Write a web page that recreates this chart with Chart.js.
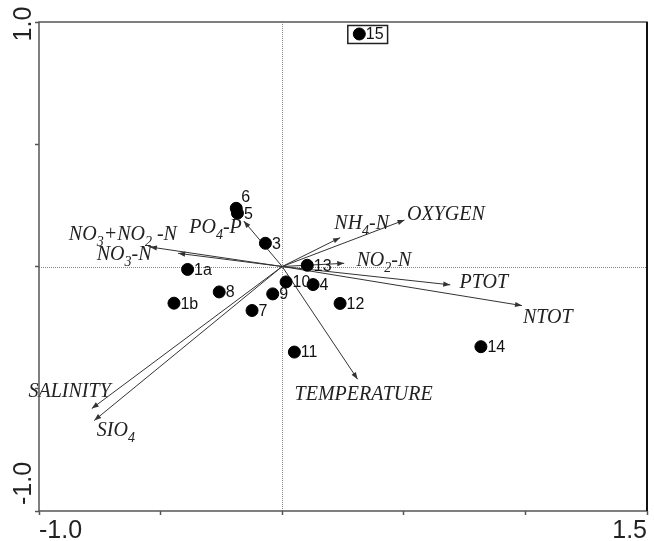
<!DOCTYPE html>
<html><head><meta charset="utf-8">
<script src="https://cdn.jsdelivr.net/npm/chart.js@4.4.1/dist/chart.umd.min.js"></script>
<style>html,body{margin:0;padding:0;background:#fff;} canvas{display:block;}</style>
</head><body>
<canvas id="c" width="654" height="541"></canvas>
<script>
// ---- data ----
const siteNames = ['1a','1b','3','4','5','6','7','8','9','10','11','12','13','14','15'];
const siteX = [-0.389,-0.445,-0.069,0.127,-0.184,-0.189,-0.124,-0.259,-0.039,0.016,0.050,0.238,0.103,0.817,0.317];
const siteY = [-0.012,-0.150,0.095,-0.074,0.218,0.238,-0.180,-0.104,-0.112,-0.063,-0.350,-0.151,0.005,-0.328,0.951];

const varNames = ['OXYGEN','NH_4-N','NO_2-N','PTOT','NTOT','TEMPERATURE','SALINITY','SIO_4','PO_4-P','NO_3-N','NO_3+NO_2 -N'];
const varX = [0.503,0.238,0.255,0.691,0.986,0.310,-0.783,-0.773,-0.158,-0.428,-0.544];
const varY = [0.190,0.118,0.013,-0.075,-0.160,-0.461,-0.581,-0.630,0.186,0.054,0.080];
// label anchor (centre of text) in data units
const varLabelX = [0.673,0.327,0.418,0.829,1.092,0.335,-0.874,-0.684,-0.274,-0.650,-0.655];
const varLabelY = [0.217,0.182,0.029,-0.061,-0.205,-0.520,-0.506,-0.668,0.164,0.055,0.134];

const xTickValues = [-1.0, 1.5];
const xTickLabels = ['-1.0', '1.5'];
const yTickValues = [1.0, -1.0];
const yTickLabels = ['1.0', '-1.0'];
const boxedSite = '15';

// ---- chart ----
const datasets = [{
  label: 'sites',
  data: siteX.map((x, i) => ({x, y: siteY[i]})),
  backgroundColor: '#000',
  borderColor: '#000',
  pointRadius: 6,
  pointHoverRadius: 6,
  showLine: false,
  order: 0
}];
varNames.forEach((n, i) => {
  datasets.push({
    label: n,
    data: [{x: 0, y: 0}, {x: varX[i], y: varY[i]}],
    showLine: true,
    borderColor: '#333',
    borderWidth: 1,
    pointRadius: 0,
    pointHoverRadius: 0,
    order: 1
  });
});

function drawRich(ctx, str, cx, cy, size) {
  const parts = [];
  for (let i = 0; i < str.length; i++) {
    if (str[i] === '_') { parts.push({t: str[i + 1], sub: true}); i++; }
    else if (parts.length && !parts[parts.length - 1].sub) parts[parts.length - 1].t += str[i];
    else parts.push({t: str[i], sub: false});
  }
  const mainF = 'italic ' + size + 'px "Liberation Serif", "Times New Roman", serif';
  const subF = 'italic ' + Math.round(size * 0.7) + 'px "Liberation Serif", "Times New Roman", serif';
  let w = 0;
  parts.forEach(p => { ctx.font = p.sub ? subF : mainF; p.w = ctx.measureText(p.t).width; w += p.w; });
  let x = cx - w / 2;
  ctx.textAlign = 'left';
  ctx.textBaseline = 'alphabetic';
  const base = cy + size * 0.33;
  parts.forEach(p => {
    ctx.font = p.sub ? subF : mainF;
    ctx.fillText(p.t, x, p.sub ? base + size * 0.3 : base);
    x += p.w;
  });
}

const biplot = {
  id: 'biplot',
  beforeDatasetsDraw(chart) {
    const {ctx, chartArea: a, scales: {x, y}} = chart;
    ctx.save();
    ctx.strokeStyle = '#888';
    ctx.lineWidth = 1;
    ctx.setLineDash([1, 1]);
    const x0 = Math.round(x.getPixelForValue(0)) + 0.5;
    const y0 = Math.round(y.getPixelForValue(0)) + 0.5;
    ctx.beginPath();
    ctx.moveTo(x0, a.top); ctx.lineTo(x0, a.bottom);
    ctx.moveTo(a.left, y0); ctx.lineTo(a.right, y0);
    ctx.stroke();
    ctx.restore();
  },
  afterDatasetsDraw(chart) {
    const {ctx, chartArea: a, scales: {x, y}} = chart;
    ctx.save();
    // arrowheads
    ctx.fillStyle = '#333';
    varNames.forEach((n, i) => {
      const px = x.getPixelForValue(varX[i]), py = y.getPixelForValue(varY[i]);
      const ox = x.getPixelForValue(0), oy = y.getPixelForValue(0);
      const ang = Math.atan2(py - oy, px - ox);
      const L = 7, W = 2.6;
      ctx.beginPath();
      ctx.moveTo(px, py);
      ctx.lineTo(px - L * Math.cos(ang) + W * Math.sin(ang), py - L * Math.sin(ang) - W * Math.cos(ang));
      ctx.lineTo(px - L * Math.cos(ang) - W * Math.sin(ang), py - L * Math.sin(ang) + W * Math.cos(ang));
      ctx.closePath();
      ctx.fill();
    });
    // variable labels
    ctx.fillStyle = '#222';
    varNames.forEach((n, i) => {
      drawRich(ctx, n, x.getPixelForValue(varLabelX[i]), y.getPixelForValue(varLabelY[i]), 20);
    });
    // site labels
    ctx.font = '16px "Liberation Sans", Arial, sans-serif';
    ctx.textBaseline = 'middle';
    ctx.textAlign = 'left';
    ctx.fillStyle = '#111';
    siteNames.forEach((n, i) => {
      const px = x.getPixelForValue(siteX[i]), py = y.getPixelForValue(siteY[i]);
      let lx = px + 6.5, ly = py + 1;
      if (n === '6') { lx = px + 5; ly = py - 11; }
      ctx.fillText(n, lx, ly);
      if (n === boxedSite) {
        const w = ctx.measureText(n).width;
        ctx.strokeStyle = '#222';
        ctx.lineWidth = 1.5;
        ctx.strokeRect(px - 11.5, py - 8.5, (lx + w + 4) - (px - 11.5), 18);
      }
    });
    // frame
    ctx.strokeStyle = '#555';
    ctx.lineWidth = 1.5;
    ctx.strokeRect(a.left, a.top, a.right - a.left, a.bottom - a.top);
    ctx.strokeStyle = '#111';
    ctx.lineWidth = 2;
    ctx.beginPath(); ctx.moveTo(a.right, a.top); ctx.lineTo(a.right, a.bottom); ctx.stroke();
    // tick labels
    ctx.fillStyle = '#222';
    ctx.font = '25px "Liberation Sans", Arial, sans-serif';
    ctx.textBaseline = 'alphabetic';
    xTickValues.forEach((v, i) => {
      const px = x.getPixelForValue(v);
      ctx.textAlign = i === 0 ? 'left' : 'right';
      ctx.fillText(xTickLabels[i], px, 538);
    });
    yTickValues.forEach((v, i) => {
      const py = y.getPixelForValue(v);
      ctx.save();
      ctx.translate(31, i === 0 ? py + 2 : py - 6);
      ctx.rotate(-Math.PI / 2);
      ctx.textAlign = i === 0 ? 'center' : 'left';
      ctx.fillText(yTickLabels[i], 0, 0);
      ctx.restore();
    });
    ctx.restore();
  }
};

new Chart(document.getElementById('c'), {
  type: 'scatter',
  data: {datasets},
  options: {
    responsive: false,
    animation: false,
    devicePixelRatio: 1,
    layout: {padding: {top: 22, right: 5, left: 0, bottom: 0}},
    plugins: {legend: {display: false}, tooltip: {enabled: false}},
    scales: {
      x: {
        type: 'linear', min: -1, max: 1.5,
        ticks: {stepSize: 0.5, display: false},
        grid: {drawOnChartArea: false, drawTicks: true, tickLength: 4, tickColor: '#555', tickWidth: 1.5},
        border: {display: false},
        afterFit(s) { s.height = 30; }
      },
      y: {
        type: 'linear', min: -1, max: 1,
        ticks: {stepSize: 0.5, display: false},
        grid: {drawOnChartArea: false, drawTicks: true, tickLength: 4, tickColor: '#555', tickWidth: 1.5},
        border: {display: false},
        afterFit(s) { s.width = 39; }
      }
    }
  },
  plugins: [biplot]
});
</script>
</body></html>
